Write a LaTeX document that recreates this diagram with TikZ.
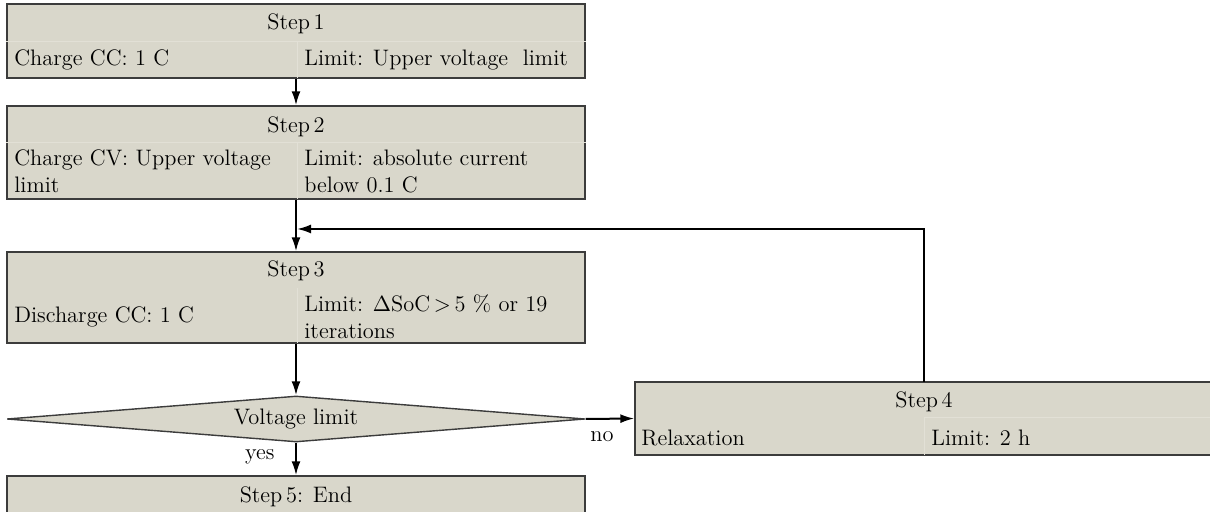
\documentclass[tikz,border=0pt]{standalone}
\usetikzlibrary{shapes.geometric,arrows.meta}
\definecolor{boxfill}{RGB}{217,215,203}
\definecolor{boxline}{RGB}{60,60,60}
\definecolor{cellline}{RGB}{226,224,214}
\tikzset{
  stepbox/.style={rectangle, draw=boxline, fill=boxfill, line width=0.7pt,
    minimum width=289pt, inner sep=0pt},
  decision/.style={diamond, draw=boxline, fill=boxfill, line width=0.7pt,
    minimum width=289pt, minimum height=23pt, inner sep=0pt},
  cell/.style={draw=cellline, line width=0.5pt},
  txt/.style={inner sep=0pt, font=\fontsize{11.2pt}{13.5pt}\selectfont},
  lefttxt/.style={txt, anchor=west, align=left},
  flow/.style={line width=1pt, -{Latex[length=7pt,width=4.5pt]}},
}
\begin{document}
\begin{tikzpicture}[x=0.5pt,y=-0.5pt]
\useasboundingbox (0,0) rectangle (1210,512);
\clip (0,0) rectangle (1210,512);

% Step 1
\node[stepbox, minimum height=37pt] (s1) at (296,41) {};
\draw[cell] (s1.west |- 0,42) -- (s1.east |- 0,42);
\draw[cell] (297,42) -- (297,78);
\node[txt] (s1h) at (296,24) {Step\,1};
\node[lefttxt] (s1l) at (14,60) {Charge CC: 1 C};
\node[lefttxt] (s1r) at (304,60) {Limit: Upper voltage\ \ limit};

% Step 2
\node[stepbox, minimum height=46.5pt] (s2) at (296,152.5) {};
\draw[cell] (s2.west |- 0,143) -- (s2.east |- 0,143);
\draw[cell] (297,143) -- (297,199);
\node[txt] (s2h) at (296,127) {Step\,2};
\node[lefttxt] (s2l) at (14,171.5) {Charge CV: Upper voltage\\limit};
\node[lefttxt] (s2r) at (304,171.5) {Limit: absolute current\\below 0.1 C};

% Step 3
\node[stepbox, minimum height=45.5pt] (s3) at (296,297.5) {};
\draw[cell] (297,288) -- (297,343);
\node[txt] (s3h) at (296,271) {Step\,3};
\node[lefttxt] (s3l) at (14,317) {Discharge CC: 1 C};
\node[lefttxt] (s3r) at (304,317) {Limit: $\Delta$SoC\,$>$\,5 \% or 19\\iterations};

% Decision
\node[decision] (dia) at (296,419) {};
\node[txt] (dial) at (296,419) {Voltage limit};

% Step 4 (runs past the right edge)
\node[stepbox, minimum width=300pt, minimum height=36.5pt] (s4) at (935,418.5) {};
\coordinate (s4top) at (924,382);
\draw[cell] (924,418) -- (s4.east |- 0,418);
\draw[cell] (924,418) -- (924,455);
\node[txt] (s4h) at (924,402) {Step\,4};
\node[lefttxt] (s4l) at (641,438) {Relaxation};
\node[lefttxt] (s4r) at (931,438) {Limit: 2 h};

% Step 5 (runs past the bottom edge)
\node[stepbox, minimum height=24pt] (s5) at (296,500) {};
\node[txt] (s5h) at (296,497) {Step\,5: End};

% Connectors
\coordinate (join) at (297,229);
\draw[flow] (s1.south) -- (s2.north);
\draw[flow] (s2.south) -- (s3.north);
\draw[flow] (s4top) |- (join);
\draw[flow] (s3.south) -- (dia.north);
\draw[flow] (dia.south) -- (s5.north);
\draw[flow] (dia.east) -- (s4.west);

% Branch labels
\node[txt, anchor=east] (yes) at (275,457) {yes};
\node[txt] (no) at (602,437) {no};
\end{tikzpicture}
\end{document}
